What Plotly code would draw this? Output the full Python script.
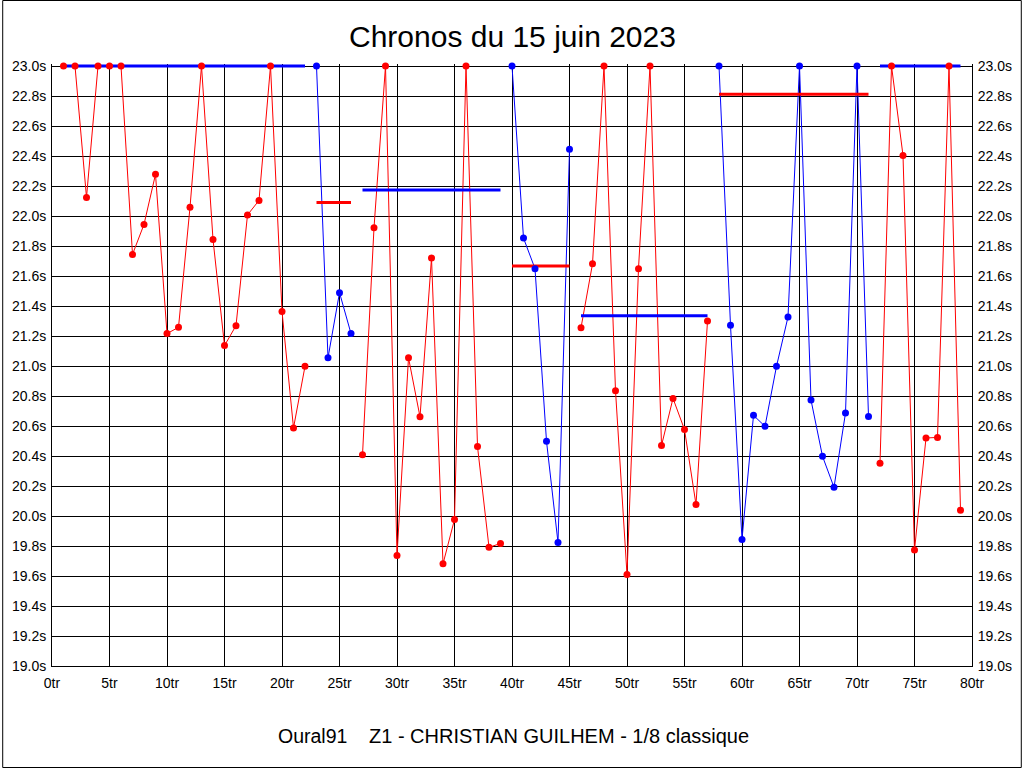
import plotly.graph_objects as go

# ---- data ----
laps = list(range(1, 80))
times = [
    23.0, 23.0, 22.124, 23.0, 23.0, 23.0, 21.744, 21.944, 22.278, 21.216,
    21.258, 22.058, 23.0, 21.844, 21.136, 21.269, 22.007, 22.104, 23.0, 21.364,
    20.587, 20.998,                                      # laps 1-22 (red)
    23.0, 21.055, 21.489, 21.216,                        # laps 23-26 (blue)
    20.408, 21.922, 23.0, 19.736, 21.055, 20.661, 21.72, 19.681, 19.977, 23.0,
    20.463, 19.791, 19.817,                              # laps 27-39 (red)
    23.0, 21.853, 21.649, 20.498, 19.823, 22.445,        # laps 40-45 (blue)
    21.255, 21.681, 23.0, 20.835, 19.61, 21.649, 23.0, 20.47, 20.784, 20.576,
    20.076, 21.30,                                       # laps 46-57 (red)
    23.0, 21.271, 19.844, 20.671, 20.598, 20.998, 21.327, 23.0, 20.773, 20.398,
    20.191, 20.687, 23.0, 20.664,                        # laps 58-71 (blue)
    20.351, 23.0, 22.404, 19.773, 20.52, 20.524, 23.0, 20.038,  # laps 72-79 (red)
]
seg_start = [1, 23, 27, 40, 46, 58, 72]
seg_end = [22, 26, 39, 45, 57, 71, 79]
seg_color = ["red", "blue", "red", "blue", "red", "blue", "red"]
level_value = [23.0, 22.09, 22.174, 21.667, 21.335, 22.811, 23.0]
level_color = ["blue", "red", "blue", "red", "blue", "red", "blue"]

x_ticks = list(range(0, 81, 5))
y_ticks = [round(19.0 + 0.2 * i, 1) for i in range(21)]

title_text = "Chronos du 15 juin 2023"
club_text = "Oural91"
pilot_text = "Z1 - CHRISTIAN GUILHEM - 1/8 classique"

COL = {"red": "#FF0000", "blue": "#0000FF"}
FONT = "Liberation Sans, Arial, sans-serif"

# plot area: 23.0s sits at y=66px, 19.0s at y=666px; two extra pixels on top
# so the thick level line at 23.0s is not clipped
PLOT_H = 602
Y_MIN = 19.0
Y_MAX = 19.0 + 4.0 * PLOT_H / 600

fig = go.Figure()

# segment lines
for s, e, c in zip(seg_start, seg_end, seg_color):
    xs = [l for l in laps if s <= l <= e]
    ys = [times[l - 1] for l in xs]
    fig.add_trace(go.Scatter(x=xs, y=ys, mode="lines", cliponaxis=False,
                             line=dict(color=COL[c], width=1), hoverinfo="skip"))

# horizontal level lines
for s, e, v, c in zip(seg_start, seg_end, level_value, level_color):
    fig.add_trace(go.Scatter(x=[s, e], y=[v, v], mode="lines", cliponaxis=False,
                             line=dict(color=COL[c], width=3), hoverinfo="skip"))

# markers
for s, e, c in zip(seg_start, seg_end, seg_color):
    xs = [l for l in laps if s <= l <= e]
    ys = [times[l - 1] for l in xs]
    fig.add_trace(go.Scatter(x=xs, y=ys, mode="markers", cliponaxis=False,
                             marker=dict(color=COL[c], size=7, line=dict(width=0))))

# dummy trace for right axis
fig.add_trace(go.Scatter(x=[None], y=[None], yaxis="y2", mode="markers",
                         showlegend=False))

axis_common = dict(showgrid=True, gridcolor="black", gridwidth=1,
                   zeroline=False, showline=True, linecolor="black", linewidth=1,
                   ticks="", layer="below traces",
                   tickfont=dict(family=FONT, size=14, color="black"))

fig.update_layout(
    width=1024, height=768,
    margin=dict(l=50, r=50, t=64, b=102),
    paper_bgcolor="white", plot_bgcolor="white",
    showlegend=False,
    xaxis=dict(range=[0, 80], tickvals=x_ticks,
               ticktext=[f"{v}tr" for v in x_ticks],
               ticklabelstandoff=4, **axis_common),
    yaxis=dict(range=[Y_MIN, Y_MAX], tickvals=y_ticks,
               ticktext=[f"{v:.1f}s" for v in y_ticks],
               ticklabelstandoff=2, **axis_common),
    yaxis2=dict(range=[Y_MIN, Y_MAX], tickvals=y_ticks,
                ticktext=[f"{v:.1f}s" for v in y_ticks],
                overlaying="y", side="right", showgrid=False, zeroline=False,
                showline=True, linecolor="black", ticks="", ticklabelstandoff=2,
                layer="below traces",
                tickfont=dict(family=FONT, size=14, color="black")),
    annotations=[
        dict(text=title_text, x=0.5, y=(666 - 37) / PLOT_H, xref="paper", yref="paper",
             xanchor="center", yanchor="middle", showarrow=False,
             font=dict(family=FONT, size=30, color="black")),
        dict(text=club_text, x=(275 - 50) / 924, y=(666 - 736) / PLOT_H,
             xref="paper", yref="paper", xanchor="left", yanchor="middle",
             showarrow=False, font=dict(family=FONT, size=19.5, color="black")),
        dict(text=pilot_text, x=(366 - 50) / 924, y=(666 - 736) / PLOT_H,
             xref="paper", yref="paper", xanchor="left", yanchor="middle",
             showarrow=False, font=dict(family=FONT, size=20, color="black")),
    ],
    shapes=[
        dict(type="rect", xref="paper", yref="paper",
             x0=(0.5 - 50) / 924, x1=(1023.5 - 50) / 924,
             y0=(666 - 767.5) / PLOT_H, y1=(666 - 0.5) / PLOT_H,
             line=dict(color="black", width=1), fillcolor="rgba(0,0,0,0)",
             layer="above"),
    ],
)

fig.write_html("out.html", config={"displayModeBar": False},
               post_script="document.body.style.margin='0px';"
                           "document.body.style.overflow='hidden';")
